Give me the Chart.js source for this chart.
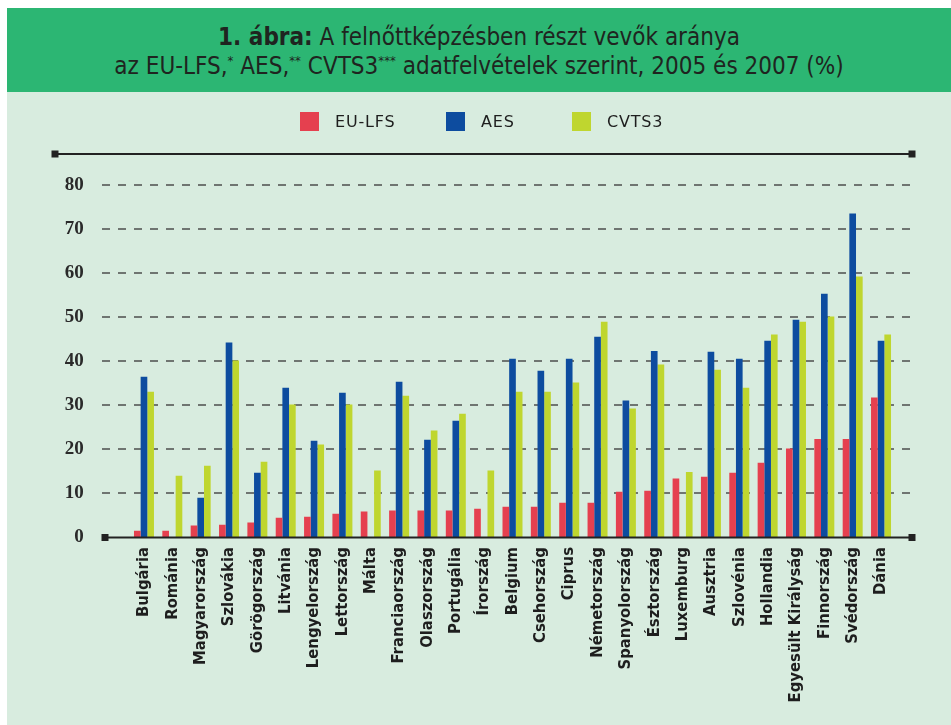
<!DOCTYPE html>
<html lang="hu">
<head>
<meta charset="utf-8">
<script src="https://cdn.jsdelivr.net/npm/chart.js@4.4.1/dist/chart.umd.min.js"></script>
<style>
  html, body { margin: 0; padding: 0; background: #ffffff; width: 951px; height: 725px; overflow: hidden; }
  #header {
    position: absolute; left: 7px; top: 8px; width: 944px; height: 84px;
    background: #2cb673; color: #1f2420;
    font-family: "Liberation Sans Narrow", "DejaVu Sans Condensed", sans-serif;
    font-size: 24px; text-align: center; line-height: 29px;
  }
  #header .l1 { position: absolute; left: 0; right: 0; top: 15px; }
  #header .l2 { position: absolute; left: 0; right: 0; top: 44px; }
  #header sup { font-size: 13px; vertical-align: 9px; line-height: 0; }
  #panel {
    position: absolute; left: 7px; top: 92px; width: 944px; height: 633px;
    background: #d8ecdf;
  }
  #legend {
    position: absolute; left: 0; top: 20px; width: 944px; height: 19px;
    font-family: "DejaVu Sans", sans-serif; font-size: 16px; letter-spacing: 0.8px; color: #1e1e1e;
  }
  .item { position: absolute; top: 0; height: 19px; display: flex; align-items: center; white-space: nowrap; }
  .box { width: 19px; height: 19px; margin-right: 16px; flex: none; }
  #wrap { position: absolute; left: 0; top: 0; width: 944px; height: 633px; }
</style>
</head>
<body>
<div id="header">
  <div class="l1"><b>1. ábra:</b> A felnőttképzésben részt vevők aránya</div>
  <div class="l2">az EU-LFS,<sup>*</sup> AES,<sup>**</sup> CVTS3<sup>***</sup> adatfelvételek szerint, 2005 és 2007 (%)</div>
</div>
<div id="panel">
  <div id="wrap"><canvas id="c"></canvas></div>
  <div id="legend"></div>
</div>
<script>
const categories = ["Bulgária","Románia","Magyarország","Szlovákia","Görögország","Litvánia","Lengyelország","Lettország","Málta","Franciaország","Olaszország","Portugália","Írország","Belgium","Csehország","Ciprus","Németország","Spanyolország","Észtország","Luxemburg","Ausztria","Szlovénia","Hollandia","Egyesült Királyság","Finnország","Svédország","Dánia"];
const euLfs = [1.4, 1.4, 2.6, 2.8, 3.3, 4.4, 4.6, 5.3, 5.8, 6.0, 6.0, 6.0, 6.4, 6.9, 6.9, 7.8, 7.8, 10.3, 10.5, 13.3, 13.7, 14.6, 16.9, 20.1, 22.3, 22.3, 31.7];
const aes = [36.4, null, 8.9, 44.2, 14.6, 33.9, 21.9, 32.8, null, 35.3, 22.1, 26.4, null, 40.5, 37.8, 40.5, 45.5, 31.0, 42.3, null, 42.1, 40.5, 44.6, 49.4, 55.3, 73.5, 44.6];
const cvts3 = [33.0, 13.9, 16.2, 40.1, 17.1, 30.1, 21.0, 30.1, 15.1, 32.1, 24.2, 28.0, 15.1, 33.0, 33.0, 35.1, 48.9, 29.2, 39.2, 14.8, 38.0, 33.9, 46.0, 48.9, 50.1, 59.2, 46.0];
const seriesNames = ["EU-LFS", "AES", "CVTS3"];
const seriesColors = ["#e5404f", "#0d4c9f", "#bfd62f"];
const yTicks = [0, 10, 20, 30, 40, 50, 60, 70, 80];
const legendLeft = [293, 439, 565];

// HTML legend
const leg = document.getElementById('legend');
seriesNames.forEach((n, i) => {
  const it = document.createElement('div'); it.className = 'item'; it.style.left = legendLeft[i] + 'px';
  const b = document.createElement('div'); b.className = 'box'; b.style.background = seriesColors[i];
  const t = document.createElement('span'); t.textContent = n;
  it.appendChild(b); it.appendChild(t); leg.appendChild(it);
});

function sq(ctx, x, y, s) { ctx.fillRect(x - s / 2, y - s / 2, s, s); }

const decor = {
  id: 'decor',
  beforeDatasetsDraw(chart) {
    const ctx = chart.ctx, y = chart.scales.y;
    ctx.save();
    ctx.strokeStyle = '#6f7571';
    ctx.lineWidth = 2;
    ctx.setLineDash([8, 8]);
    yTicks.forEach(v => {
      if (v === 0) return;
      const py = Math.round(y.getPixelForValue(v));
      ctx.beginPath(); ctx.moveTo(95, py); ctx.lineTo(905, py); ctx.stroke();
    });
    ctx.restore();
  },
  afterDatasetsDraw(chart) {
    const ctx = chart.ctx, y = chart.scales.y;
    ctx.save();
    ctx.strokeStyle = '#222'; ctx.fillStyle = '#222'; ctx.lineWidth = 2;
    const by = Math.round(y.getPixelForValue(0)) + 0.5;
    ctx.beginPath(); ctx.moveTo(98, by); ctx.lineTo(905, by); ctx.stroke();
    sq(ctx, 98, by, 7); sq(ctx, 905, by, 7);
    const ty = 62;
    ctx.beginPath(); ctx.moveTo(48, ty); ctx.lineTo(905, ty); ctx.stroke();
    sq(ctx, 48, ty, 7); sq(ctx, 905, ty, 7);
    ctx.restore();
  }
};

new Chart(document.getElementById('c'), {
  type: 'bar',
  data: {
    labels: categories,
    datasets: [
      { label: seriesNames[0], data: euLfs, backgroundColor: seriesColors[0] },
      { label: seriesNames[1], data: aes, backgroundColor: seriesColors[1] },
      { label: seriesNames[2], data: cvts3, backgroundColor: seriesColors[2] }
    ]
  },
  options: {
    responsive: true,
    maintainAspectRatio: false,
    animation: false,
    layout: { padding: { top: 93, right: 55.8, bottom: 0, left: 0 } },
    datasets: { bar: { barPercentage: 1.0, categoryPercentage: 0.705 } },
    plugins: { legend: { display: false }, tooltip: { enabled: false } },
    scales: {
      x: {
        grid: { display: false, drawTicks: false },
        border: { display: false },
        ticks: {
          autoSkip: false, maxRotation: 90, minRotation: 90, padding: 10,
          color: '#1e1e1e',
          font: { family: 'DejaVu Sans Condensed', weight: 'bold', size: 16.5 }
        },
        afterFit(s) { s.height = 188; }
      },
      y: {
        min: 0, max: 80,
        grid: { display: false, drawTicks: false },
        border: { display: false },
        afterBuildTicks(s) { s.ticks = yTicks.map(v => ({ value: v })); },
        ticks: {
          padding: 46, color: '#2a2a2a',
          font: { family: 'Liberation Serif', weight: 'bold', size: 19 }
        },
        afterFit(s) { s.width = 122.8; }
      }
    }
  },
  plugins: [decor]
});
</script>
</body>
</html>
